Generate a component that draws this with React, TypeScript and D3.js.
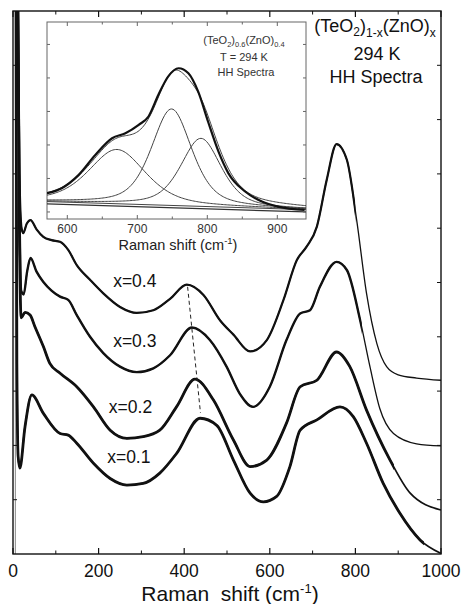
import React from 'react';
import * as d3 from 'd3';

const W = 463;
const H = 604;

// Main axes ticks
const xMajorTicks = [0, 200, 400, 600, 800, 1000];
const xMinorTicks = [100, 300, 500, 700, 900];
const yTicks = [1, 2, 3, 4, 5, 6, 7, 8, 9];

// Spectra: [Raman shift (cm-1), intensity (arb. units, offset)]
const specX04: [number, number][] = [
  [11, 10.6], [15, 7.0], [20, 6.0], [24, 5.91], [32, 6.08], [41, 6.15], [55, 5.98], [71, 5.84], [90, 5.78],
  [110, 5.75], [129, 5.6], [149, 5.32], [180, 5.05], [211, 4.8], [250, 4.55], [289, 4.44], [328, 4.49],
  [367, 4.7], [406, 4.96], [445, 4.77], [484, 4.3], [515, 4.04], [554, 3.73], [593, 3.94], [632, 4.68],
  [663, 5.41], [686, 5.66], [710, 6.03], [733, 6.89], [756, 7.55], [780, 7.26], [803, 6.15], [826, 4.8],
  [850, 3.88], [873, 3.45], [900, 3.3], [943, 3.24], [1000, 3.2],
];
const specX03: [number, number][] = [
  [11, 10.6], [15, 6.5], [19, 4.85], [25, 4.78], [33, 5.2], [41, 5.45], [55, 5.2], [71, 5.01], [90, 4.85],
  [110, 4.74], [129, 4.68], [149, 4.4], [180, 4.0], [211, 3.7], [250, 3.45], [289, 3.35], [328, 3.42],
  [367, 3.66], [418, 4.17], [460, 3.94], [499, 3.45], [530, 2.95], [561, 2.71], [600, 3.08], [639, 3.94],
  [671, 4.43], [694, 4.49], [717, 4.92], [756, 5.38], [780, 5.23], [811, 4.31], [834, 3.45], [857, 2.68],
  [889, 2.22], [943, 2.03], [1000, 1.99],
];
const specX02: [number, number][] = [
  [11, 10.6], [15, 6.0], [19, 4.35], [28, 4.45], [40, 4.4], [51, 4.19], [71, 3.82], [86, 3.51], [110, 3.33],
  [149, 3.08], [188, 2.71], [227, 2.28], [266, 2.13], [304, 2.16], [343, 2.28], [382, 2.71], [425, 3.22],
  [468, 2.84], [515, 2.1], [554, 1.61], [593, 1.73], [639, 2.41], [671, 3.08], [710, 3.2], [756, 3.72],
  [787, 3.45], [826, 2.65], [881, 1.73], [928, 1.12], [1000, 0.81],
];
const specX01: [number, number][] = [
  [7, 10.6], [9, 3.5], [12, 1.8], [16, 1.58], [28, 2.34], [44, 2.93], [71, 2.59], [110, 2.22], [129, 2.19],
  [149, 2.04], [188, 1.67], [227, 1.39], [266, 1.27], [304, 1.3], [343, 1.49], [382, 1.85], [437, 2.5],
  [476, 2.37], [515, 1.73], [554, 1.12], [585, 0.96], [616, 1.06], [647, 1.61], [671, 2.28], [710, 2.47],
  [764, 2.71], [795, 2.53], [826, 2.04], [865, 1.3], [904, 0.75], [951, 0.26], [1000, 0.01],
];
const seriesLabels = ['x=0.4', 'x=0.3', 'x=0.2', 'x=0.1'];
const labelAnchors: [number, number][] = [[234, 4.92], [234, 3.82], [224, 2.6], [220, 1.68]];
// peak shift of the ~420 cm-1 band from x=0.4 to x=0.1
const bandShift: [number, number][] = [[408, 4.92], [438, 2.6]];

// Inset
const insetMajorTicks = [600, 700, 800, 900];
const insetMinorTicks = [650, 750, 850];
const insetYTicks = [0, 1, 2, 3, 4, 5];
const insetData: [number, number][] = [
  [571, 0.56], [592, 0.71], [616, 1.1], [640, 1.7], [664, 2.2], [683, 2.35], [702, 2.6], [716, 2.85],
  [730, 3.49], [744, 4.04], [759, 4.29], [773, 4.14], [787, 3.59], [801, 2.7], [816, 1.8], [830, 1.16],
  [854, 0.61], [878, 0.31], [901, 0.16], [939, 0.06],
];
const fitCenters = [671, 749, 791];
const fitHeights = [1.62, 2.88, 2.03];
const fitWidths = [96, 68, 68];
const baselineA: [number, number][] = [[571, 0.31], [941, 0.07]];
const baselineB: [number, number][] = [[571, 0.24], [941, 0.0]];

const FONT = "'Liberation Sans', Arial, Helvetica, sans-serif";

export default function App() {
  const x = d3.scaleLinear().domain([0, 1000]).range([13, 441]);
  const y = d3.scaleLinear().domain([0, 10]).range([554, 11]);
  const line = d3
    .line<[number, number]>()
    .x((d) => x(d[0]))
    .y((d) => y(d[1]))
    .curve(d3.curveMonotoneX);

  const ix = d3.scaleLinear().domain([571, 941]).range([47, 306]);
  const iy = d3.scaleLinear().domain([-0.21, 5.67]).range([219, 22]);
  const iline = d3
    .line<[number, number]>()
    .x((d) => ix(d[0]))
    .y((d) => iy(d[1]))
    .curve(d3.curveMonotoneX);
  const ilineLin = d3
    .line<[number, number]>()
    .x((d) => ix(d[0]))
    .y((d) => iy(d[1]));

  const baseAt = (xv: number) => {
    const [[x0, y0], [x1, y1]] = baselineA;
    return y0 + ((y1 - y0) * (xv - x0)) / (x1 - x0);
  };
  const pv = (xv: number, c: number, w: number) => {
    const hw = w / 2;
    const t = (xv - c) / hw;
    const g = Math.exp(-Math.LN2 * t * t);
    const l = 1 / (1 + t * t);
    return 0.5 * g + 0.5 * l;
  };
  const grid = d3.range(571, 942, 2);
  const comps = fitCenters.map((c, i) =>
    grid.map((xv) => [xv, baseAt(xv) + fitHeights[i] * pv(xv, c, fitWidths[i])] as [number, number])
  );
  const fitSum = grid.map(
    (xv) =>
      [xv, baseAt(xv) + fitCenters.reduce((s, c, i) => s + fitHeights[i] * pv(xv, c, fitWidths[i]), 0)] as [
        number,
        number
      ]
  );

  const series = [
    { d: specX04, cut: 800, wThick: 2.2, wThin: 1.3 },
    { d: specX03, cut: 815, wThick: 2.4, wThin: 1.3 },
    { d: specX02, cut: 890, wThick: 2.8, wThin: 1.7 },
    { d: specX01, cut: 960, wThick: 2.8, wThin: 1.7 },
  ];

  return (
    <svg
      width={W}
      height={H}
      style={{ position: 'absolute', left: 0, top: 0, background: '#fff' }}
      fontFamily={FONT}
    >
      <defs>
        <clipPath id="mainClip">
          <rect x={13} y={11} width={428} height={543} />
        </clipPath>
        <clipPath id="insetClip">
          <rect x={47} y={22} width={259} height={197} />
        </clipPath>
        {series.map((s, i) => (
          <clipPath id={'cut' + i} key={i}>
            <rect x={13} y={11} width={x(s.cut) - 13} height={543} />
          </clipPath>
        ))}
      </defs>
      <rect width={W} height={H} fill="#fff" />

      {/* spectra */}
      <g clipPath="url(#mainClip)" fill="none" stroke="#111" strokeLinejoin="round">
        <line x1={x(5.5)} x2={x(5.5)} y1={y(0)} y2={y(10)} stroke="#888" strokeWidth={1} />
        {series.map((s, i) => (
          <g key={i}>
            <path d={line(s.d) || ''} strokeWidth={s.wThin} />
            <path d={line(s.d) || ''} strokeWidth={s.wThick} clipPath={`url(#cut${i})`} />
          </g>
        ))}
        <path
          d={d3.line()(bandShift.map((p) => [x(p[0]), y(p[1])]) as any) || ''}
          stroke="#222"
          strokeWidth={1}
          strokeDasharray="4,3"
        />
      </g>

      {/* series labels */}
      {seriesLabels.map((t, i) => (
        <text key={t} x={x(labelAnchors[i][0])} y={y(labelAnchors[i][1])} fontSize={17.5} fill="#111">
          {t}
        </text>
      ))}

      {/* main frame */}
      <rect x={13} y={11} width={428} height={543} fill="none" stroke="#111" strokeWidth={1.4} />
      {xMajorTicks.map((t) => (
        <g key={'M' + t} stroke="#111" strokeWidth={1.2}>
          <line x1={x(t)} x2={x(t)} y1={554} y2={548} />
          <line x1={x(t)} x2={x(t)} y1={11} y2={17} />
        </g>
      ))}
      {xMinorTicks.map((t) => (
        <g key={'m' + t} stroke="#111" strokeWidth={1}>
          <line x1={x(t)} x2={x(t)} y1={554} y2={550.5} />
          <line x1={x(t)} x2={x(t)} y1={11} y2={14.5} />
        </g>
      ))}
      {yTicks.map((t) => (
        <g key={'y' + t} stroke="#111" strokeWidth={1}>
          <line x1={13} x2={17} y1={y(t)} y2={y(t)} />
          <line x1={441} x2={437} y1={y(t)} y2={y(t)} />
        </g>
      ))}
      {xMajorTicks.map((t) => (
        <text key={'l' + t} x={x(t)} y={577} textAnchor="middle" fontSize={17.5} fill="#111">
          {t}
        </text>
      ))}
      <text x={230} y={601} textAnchor="middle" fontSize={21} fill="#111" style={{ whiteSpace: 'pre' }}>
        {'Raman  shift (cm'}
        <tspan fontSize={13} dy={-8}>-1</tspan>
        <tspan dy={8}>)</tspan>
      </text>

      {/* title */}
      <text x={375} y={32} textAnchor="middle" fontSize={18} fill="#111">
        (TeO<tspan fontSize={12} dy={4}>2</tspan>
        <tspan dy={-4}>)</tspan>
        <tspan fontSize={12} dy={5}>1-x</tspan>
        <tspan dy={-5}>(ZnO)</tspan>
        <tspan fontSize={12} dy={5}>x</tspan>
      </text>
      <text x={377} y={60} textAnchor="middle" fontSize={18} fill="#111">
        294 K
      </text>
      <text x={376} y={83} textAnchor="middle" fontSize={18} fill="#111">
        HH Spectra
      </text>

      {/* inset */}
      <rect x={47} y={22} width={259} height={197} fill="#fff" stroke="#666" strokeWidth={1} />
      <g clipPath="url(#insetClip)" fill="none" strokeLinejoin="round">
        <path d={ilineLin(baselineA) || ''} stroke="#444" strokeWidth={1} />
        <path d={ilineLin(baselineB) || ''} stroke="#333" strokeWidth={1.2} />
        {comps.map((c, i) => (
          <path key={i} d={iline(c) || ''} stroke="#444" strokeWidth={1} />
        ))}
        <path d={iline(fitSum) || ''} stroke="#444" strokeWidth={1} />
        <path d={iline(insetData) || ''} stroke="#111" strokeWidth={2.2} />
      </g>
      {insetMajorTicks.map((t) => (
        <g key={'im' + t} stroke="#666" strokeWidth={1}>
          <line x1={ix(t)} x2={ix(t)} y1={219} y2={215} />
          <line x1={ix(t)} x2={ix(t)} y1={22} y2={26} />
        </g>
      ))}
      {insetMinorTicks.map((t) => (
        <g key={'in' + t} stroke="#666" strokeWidth={1}>
          <line x1={ix(t)} x2={ix(t)} y1={219} y2={216.5} />
          <line x1={ix(t)} x2={ix(t)} y1={22} y2={24.5} />
        </g>
      ))}
      {insetYTicks.map((t) => (
        <g key={'iy' + t} stroke="#666" strokeWidth={1}>
          <line x1={47} x2={50} y1={iy(t)} y2={iy(t)} />
          <line x1={306} x2={303} y1={iy(t)} y2={iy(t)} />
        </g>
      ))}
      {insetMajorTicks.map((t) => (
        <text key={'il' + t} x={ix(t)} y={233} textAnchor="middle" fontSize={12} fill="#333">
          {t}
        </text>
      ))}
      <text x={178} y={250} textAnchor="middle" fontSize={14.5} fill="#222">
        Raman shift (cm<tspan fontSize={9.5} dy={-6}>-1</tspan>
        <tspan dy={6}>)</tspan>
      </text>
      <text x={244} y={44} textAnchor="middle" fontSize={11} fill="#333">
        (TeO<tspan fontSize={7.5} dy={3}>2</tspan>
        <tspan dy={-3}>)</tspan>
        <tspan fontSize={7.5} dy={3}>0.6</tspan>
        <tspan dy={-3}>(ZnO)</tspan>
        <tspan fontSize={7.5} dy={3}>0.4</tspan>
      </text>
      <text x={244} y={61} textAnchor="middle" fontSize={11} fill="#333">
        T = 294 K
      </text>
      <text x={246} y={76} textAnchor="middle" fontSize={11} fill="#333">
        HH Spectra
      </text>
    </svg>
  );
}
